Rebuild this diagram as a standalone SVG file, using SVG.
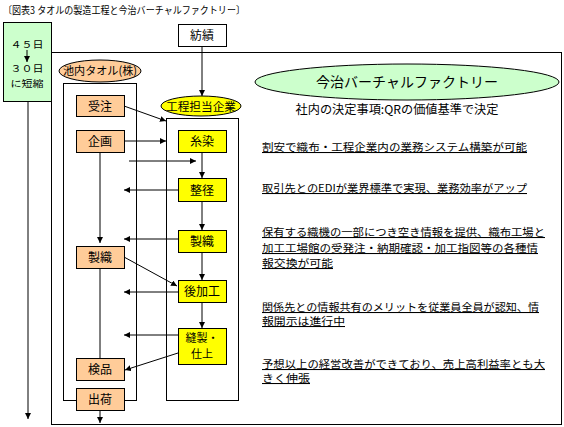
<svg xmlns="http://www.w3.org/2000/svg" width="564" height="427" viewBox="0 0 564 427">
<defs>
<marker id="ah" markerWidth="7" markerHeight="7" refX="6" refY="3" orient="auto" markerUnits="userSpaceOnUse">
<path d="M0,0 L6,3 L0,6 z" fill="#000"/>
</marker>
<style>
text{font-family:"Noto Sans CJK JP","Noto Sans",sans-serif;fill:#000}
.box{stroke:#000;stroke-width:1}
.peach{fill:#FFCC99}
.yel{fill:#FFFF00}
.frame{fill:#fff;stroke:#000;stroke-width:1}
.lbl{font-size:12px;text-anchor:middle}
.note{font-size:10.5px;text-decoration:underline}
.c line{stroke:#000;stroke-width:1}
.c .a{marker-end:url(#ah)}
</style>
</defs>
<rect width="564" height="427" fill="#fff"/>
<text x="3" y="14" font-size="10" textLength="242" lengthAdjust="spacingAndGlyphs">〔図表3 タオルの製造工程と今治バーチャルファクトリー〕</text>

<g id="frame-main"><rect class="frame" x="51.5" y="52.5" width="510" height="372"/></g>
<g id="frame-ikeuchi"><rect class="frame" x="63.5" y="83.5" width="73" height="317"/></g>
<g id="frame-process"><rect class="frame" x="166.5" y="118.5" width="72" height="282"/></g>

<g id="green"><rect class="box" x="3.5" y="22.5" width="48" height="79" fill="#CCFFCC"/>
<text x="27" y="48" font-size="9.5" text-anchor="middle" textLength="33" lengthAdjust="spacingAndGlyphs">４５日</text>
<text x="27" y="72" font-size="9.5" text-anchor="middle" textLength="33" lengthAdjust="spacingAndGlyphs">３０日</text>
<text x="27" y="86.5" font-size="9.5" text-anchor="middle" textLength="33" lengthAdjust="spacingAndGlyphs">に短縮</text></g>

<g id="boseki"><rect class="box" x="178.5" y="24.5" width="48" height="22" fill="#fff"/><text class="lbl" x="202" y="40">紡績</text></g>

<g id="ikeuchi-label"><ellipse class="box peach" cx="100" cy="71" rx="41" ry="11"/><text x="100" y="75" font-size="11.5" text-anchor="middle" textLength="74" lengthAdjust="spacingAndGlyphs">池内タオル(株)</text></g>
<g id="kotei-label"><ellipse class="box yel" cx="201" cy="106" rx="40" ry="10"/><text x="201" y="110.5" font-size="11.5" text-anchor="middle" textLength="70" lengthAdjust="spacingAndGlyphs">工程担当企業</text></g>

<g id="juchu"><rect class="box peach" x="76.5" y="95.5" width="48" height="21"/><text class="lbl" x="100" y="110.5">受注</text></g>
<g id="kikaku"><rect class="box peach" x="76.5" y="130.5" width="48" height="22"/><text class="lbl" x="100" y="146">企画</text></g>
<g id="seishoku-l"><rect class="box peach" x="76.5" y="246.5" width="48" height="22"/><text class="lbl" x="100" y="262">製織</text></g>
<g id="kenpin"><rect class="box peach" x="76.5" y="358.5" width="48" height="22"/><text class="lbl" x="100" y="374">検品</text></g>
<g id="shukka"><rect class="box peach" x="76.5" y="388.5" width="48" height="22"/><text class="lbl" x="100" y="404">出荷</text></g>

<g id="itozome"><rect class="box yel" x="178.5" y="130.5" width="48" height="22"/><text class="lbl" x="202" y="146">糸染</text></g>
<g id="seikei"><rect class="box yel" x="178.5" y="178.5" width="48" height="23"/><text class="lbl" x="202" y="194.5">整径</text></g>
<g id="seishoku-r"><rect class="box yel" x="178.5" y="230.5" width="48" height="22"/><text class="lbl" x="202" y="246">製織</text></g>
<g id="atokako"><rect class="box yel" x="178.5" y="280.5" width="48" height="22"/><text class="lbl" x="202" y="296">後加工</text></g>
<g id="hosei"><rect class="box yel" x="178.5" y="328.5" width="48" height="36"/><text x="202" y="341.5" font-size="11" text-anchor="middle">縫製・</text><text x="202" y="358" font-size="11" text-anchor="middle">仕上</text></g>

<g id="virtual"><ellipse class="box" cx="407" cy="82" rx="152" ry="18" fill="#CCFFCC"/><text x="407" y="87" font-size="14" text-anchor="middle">今治バーチャルファクトリー</text></g>
<g id="notes">
<text x="397" y="114" font-size="12" text-anchor="middle" textLength="203" lengthAdjust="spacingAndGlyphs">社内の決定事項:QRの価値基準で決定</text>
<text class="note" x="262" y="151" textLength="265" lengthAdjust="spacingAndGlyphs">割安で織布・工程企業内の業務システム構築が可能</text>
<text class="note" x="262" y="192" textLength="265" lengthAdjust="spacingAndGlyphs">取引先とのEDIが業界標準で実現、業務効率がアップ</text>
<text class="note" x="262" y="236" textLength="283" lengthAdjust="spacingAndGlyphs">保有する織機の一部につき空き情報を提供、織布工場と</text>
<text class="note" x="262" y="252" textLength="276" lengthAdjust="spacingAndGlyphs">加工工場館の受発注・納期確認・加工指図等の各種情</text>
<text class="note" x="262" y="267" textLength="71" lengthAdjust="spacingAndGlyphs">報交換が可能</text>
<text class="note" x="262" y="311" textLength="277" lengthAdjust="spacingAndGlyphs">関係先との情報共有のメリットを従業員全員が認知、情</text>
<text class="note" x="262" y="325" textLength="83" lengthAdjust="spacingAndGlyphs">報開示は進行中</text>
<text class="note" x="262" y="368" textLength="283" lengthAdjust="spacingAndGlyphs">予想以上の経営改善ができており、売上高利益率とも大</text>
<text class="note" x="262" y="382" textLength="48" lengthAdjust="spacingAndGlyphs">きく伸張</text>
</g>

<g id="connectors" class="c">
<line class="a" x1="27" y1="50" x2="27" y2="62"/>
<line class="a" x1="28" y1="101" x2="28" y2="419"/>
<line class="a" x1="202" y1="46" x2="202" y2="96"/>
<line class="a" x1="124" y1="106" x2="166" y2="121"/>
<line class="a" x1="124" y1="141" x2="166" y2="141"/>
<line class="a" x1="129" y1="161" x2="196" y2="161"/>
<line class="a" x1="202" y1="152" x2="202" y2="178"/>
<line class="a" x1="202" y1="201" x2="202" y2="230"/>
<line class="a" x1="202" y1="252" x2="202" y2="280"/>
<line class="a" x1="202" y1="302" x2="202" y2="328"/>
<line class="a" x1="178" y1="190" x2="124" y2="190"/>
<line class="a" x1="178" y1="239" x2="124" y2="239"/>
<line class="a" x1="178" y1="292" x2="124" y2="292"/>
<line class="a" x1="178" y1="335" x2="124" y2="335"/>
<line class="a" x1="178" y1="353" x2="125" y2="370"/>
<line class="a" x1="124" y1="257" x2="177" y2="286"/>
<line class="a" x1="100" y1="152" x2="100" y2="243"/>
<line x1="100" y1="268" x2="100" y2="358"/>
<line class="a" x1="100" y1="410" x2="100" y2="423"/>
</g>
</svg>
